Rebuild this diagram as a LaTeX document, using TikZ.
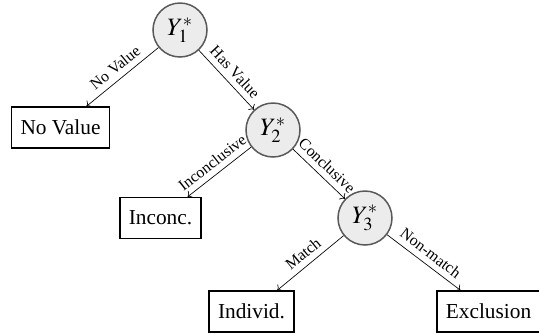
\documentclass[tikz,border=0pt]{standalone}
\usepackage{mathptmx}
\usepackage{fontspec}
\setmainfont{Liberation Serif}
\usepackage{tikz}
\usetikzlibrary{
    arrows.meta,
    calc
}

\begin{document}
\begin{tikzpicture}[x=0.6pt,y=-0.6pt,
    state/.style={circle,draw=black!65,fill=gray!15,line width=0.9pt,
        minimum size=32.4pt,inner sep=0pt,font=\fontsize{15}{17}\selectfont},
    outcome/.style={rectangle,draw=black,line width=0.9pt,minimum height=24.6pt,
        inner xsep=5.4pt,inner ysep=0pt,font=\fontsize{12.8}{15}\selectfont},
    branch/.style={->,thin},
    blabel/.style={sloped,above,midway,inner sep=3.5pt,font=\fontsize{9.5}{11}\selectfont}
]
\useasboundingbox (0,0) rectangle (539,333);

% Decision nodes
\node[state] (y1) at (180,30) {$Y_1^*$};
\node[state] (y2) at (273,130) {$Y_2^*$};
\node[state] (y3) at (365,218) {$Y_3^*$};

% Outcomes
\node[outcome] (noval) at (60.5,127.5) {No Value};
\node[outcome] (inconc) at (160.5,218) {Inconc.};
\node[outcome] (indiv) at (251.5,311.5) {Individ.};
\node[outcome] (excl) at (488.5,311.5) {Exclusion};

% Branches
\draw[branch] (y1) -- node[blabel] {No Value} (noval);
\draw[branch] (y1) -- node[blabel] {Has Value} (y2);
\draw[branch] (y2) -- node[blabel] {Inconclusive} (inconc);
\draw[branch] (y2) -- node[blabel] {Conclusive} (y3);
\draw[branch] (y3) -- node[blabel] {Match} (indiv);
\draw[branch] (y3) -- node[blabel] {Non-match} (excl);

\end{tikzpicture}
\end{document}
